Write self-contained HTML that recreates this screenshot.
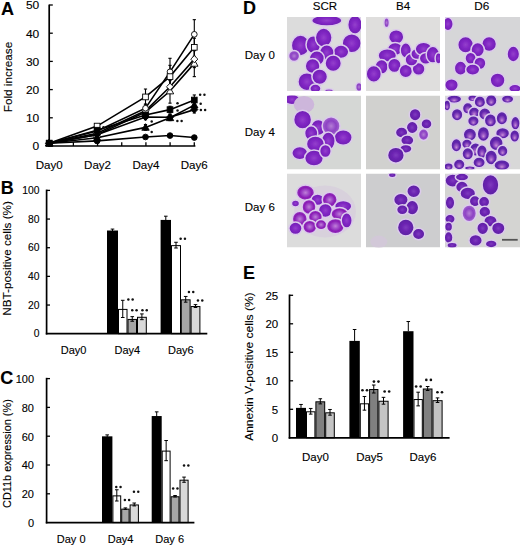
<!DOCTYPE html>
<html><head><meta charset="utf-8"><style>
html,body{margin:0;padding:0;background:#fff;}
svg{display:block;}
text{font-family:"Liberation Sans", sans-serif;fill:#000;stroke:#000;stroke-width:0.12px;}
</style></head><body>
<svg width="520" height="547" viewBox="0 0 520 547">
<rect width="520" height="547" fill="#fff"/>
<line x1="49.20" y1="4.60" x2="49.20" y2="146.80" stroke="#000" stroke-width="1.7"/>
<line x1="48.40" y1="146.00" x2="195.40" y2="146.00" stroke="#000" stroke-width="1.7"/>
<text x="39.30" y="150.30" font-size="11" text-anchor="end" textLength="6.67" lengthAdjust="spacingAndGlyphs">0</text>
<line x1="49.20" y1="117.80" x2="52.80" y2="117.80" stroke="#000" stroke-width="1.3"/>
<text x="39.30" y="122.10" font-size="11" text-anchor="end" textLength="13.34" lengthAdjust="spacingAndGlyphs">10</text>
<line x1="49.20" y1="89.60" x2="52.80" y2="89.60" stroke="#000" stroke-width="1.3"/>
<text x="39.30" y="93.90" font-size="11" text-anchor="end" textLength="13.34" lengthAdjust="spacingAndGlyphs">20</text>
<line x1="49.20" y1="61.40" x2="52.80" y2="61.40" stroke="#000" stroke-width="1.3"/>
<text x="39.30" y="65.70" font-size="11" text-anchor="end" textLength="13.34" lengthAdjust="spacingAndGlyphs">30</text>
<line x1="49.20" y1="33.20" x2="52.80" y2="33.20" stroke="#000" stroke-width="1.3"/>
<text x="39.30" y="37.50" font-size="11" text-anchor="end" textLength="13.34" lengthAdjust="spacingAndGlyphs">40</text>
<line x1="49.20" y1="5.00" x2="52.80" y2="5.00" stroke="#000" stroke-width="1.3"/>
<text x="39.30" y="9.30" font-size="11" text-anchor="end" textLength="13.34" lengthAdjust="spacingAndGlyphs">50</text>
<line x1="73.38" y1="146.00" x2="73.38" y2="142.20" stroke="#000" stroke-width="1.3"/>
<line x1="97.56" y1="146.00" x2="97.56" y2="142.20" stroke="#000" stroke-width="1.3"/>
<line x1="121.74" y1="146.00" x2="121.74" y2="142.20" stroke="#000" stroke-width="1.3"/>
<line x1="145.92" y1="146.00" x2="145.92" y2="142.20" stroke="#000" stroke-width="1.3"/>
<line x1="170.10" y1="146.00" x2="170.10" y2="142.20" stroke="#000" stroke-width="1.3"/>
<line x1="194.28" y1="146.00" x2="194.28" y2="142.20" stroke="#000" stroke-width="1.3"/>
<text x="49.20" y="168.80" font-size="11" text-anchor="middle" textLength="27.0" lengthAdjust="spacingAndGlyphs">Day0</text>
<text x="97.56" y="168.80" font-size="11" text-anchor="middle" textLength="27.0" lengthAdjust="spacingAndGlyphs">Day2</text>
<text x="145.92" y="168.80" font-size="11" text-anchor="middle" textLength="27.0" lengthAdjust="spacingAndGlyphs">Day4</text>
<text x="194.28" y="168.80" font-size="11" text-anchor="middle" textLength="27.0" lengthAdjust="spacingAndGlyphs">Day6</text>
<text x="11.90" y="77.00" font-size="10.5" text-anchor="middle" transform="rotate(-90 11.90 77.00)" textLength="70.5" lengthAdjust="spacingAndGlyphs">Fold increase</text>
<text x="1.00" y="14.60" font-size="18" text-anchor="start" font-weight="bold">A</text>
<line x1="97.10" y1="133.31" x2="97.10" y2="136.13" stroke="#000" stroke-width="1.1"/>
<line x1="95.50" y1="133.31" x2="98.70" y2="133.31" stroke="#000" stroke-width="1.1"/>
<line x1="95.50" y1="136.13" x2="98.70" y2="136.13" stroke="#000" stroke-width="1.1"/>
<line x1="145.50" y1="108.78" x2="145.50" y2="115.54" stroke="#000" stroke-width="1.1"/>
<line x1="143.90" y1="108.78" x2="147.10" y2="108.78" stroke="#000" stroke-width="1.1"/>
<line x1="143.90" y1="115.54" x2="147.10" y2="115.54" stroke="#000" stroke-width="1.1"/>
<line x1="170.00" y1="78.88" x2="170.00" y2="103.14" stroke="#000" stroke-width="1.1"/>
<line x1="168.40" y1="78.88" x2="171.60" y2="78.88" stroke="#000" stroke-width="1.1"/>
<line x1="168.40" y1="103.14" x2="171.60" y2="103.14" stroke="#000" stroke-width="1.1"/>
<line x1="194.30" y1="50.12" x2="194.30" y2="76.63" stroke="#000" stroke-width="1.1"/>
<line x1="192.70" y1="50.12" x2="195.90" y2="50.12" stroke="#000" stroke-width="1.1"/>
<line x1="192.70" y1="76.63" x2="195.90" y2="76.63" stroke="#000" stroke-width="1.1"/>
<line x1="97.10" y1="131.90" x2="97.10" y2="134.72" stroke="#000" stroke-width="1.1"/>
<line x1="95.50" y1="131.90" x2="98.70" y2="131.90" stroke="#000" stroke-width="1.1"/>
<line x1="95.50" y1="134.72" x2="98.70" y2="134.72" stroke="#000" stroke-width="1.1"/>
<line x1="145.50" y1="107.08" x2="145.50" y2="114.42" stroke="#000" stroke-width="1.1"/>
<line x1="143.90" y1="107.08" x2="147.10" y2="107.08" stroke="#000" stroke-width="1.1"/>
<line x1="143.90" y1="114.42" x2="147.10" y2="114.42" stroke="#000" stroke-width="1.1"/>
<line x1="170.00" y1="80.58" x2="170.00" y2="92.98" stroke="#000" stroke-width="1.1"/>
<line x1="168.40" y1="80.58" x2="171.60" y2="80.58" stroke="#000" stroke-width="1.1"/>
<line x1="168.40" y1="92.98" x2="171.60" y2="92.98" stroke="#000" stroke-width="1.1"/>
<line x1="194.30" y1="50.68" x2="194.30" y2="67.60" stroke="#000" stroke-width="1.1"/>
<line x1="192.70" y1="50.68" x2="195.90" y2="50.68" stroke="#000" stroke-width="1.1"/>
<line x1="192.70" y1="67.60" x2="195.90" y2="67.60" stroke="#000" stroke-width="1.1"/>
<line x1="97.10" y1="129.36" x2="97.10" y2="132.75" stroke="#000" stroke-width="1.1"/>
<line x1="95.50" y1="129.36" x2="98.70" y2="129.36" stroke="#000" stroke-width="1.1"/>
<line x1="95.50" y1="132.75" x2="98.70" y2="132.75" stroke="#000" stroke-width="1.1"/>
<line x1="145.50" y1="103.98" x2="145.50" y2="112.44" stroke="#000" stroke-width="1.1"/>
<line x1="143.90" y1="103.98" x2="147.10" y2="103.98" stroke="#000" stroke-width="1.1"/>
<line x1="143.90" y1="112.44" x2="147.10" y2="112.44" stroke="#000" stroke-width="1.1"/>
<line x1="170.00" y1="58.30" x2="170.00" y2="85.37" stroke="#000" stroke-width="1.1"/>
<line x1="168.40" y1="58.30" x2="171.60" y2="58.30" stroke="#000" stroke-width="1.1"/>
<line x1="168.40" y1="85.37" x2="171.60" y2="85.37" stroke="#000" stroke-width="1.1"/>
<line x1="194.30" y1="19.66" x2="194.30" y2="48.99" stroke="#000" stroke-width="1.1"/>
<line x1="192.70" y1="19.66" x2="195.90" y2="19.66" stroke="#000" stroke-width="1.1"/>
<line x1="192.70" y1="48.99" x2="195.90" y2="48.99" stroke="#000" stroke-width="1.1"/>
<line x1="97.10" y1="124.40" x2="97.10" y2="127.78" stroke="#000" stroke-width="1.1"/>
<line x1="95.50" y1="124.40" x2="98.70" y2="124.40" stroke="#000" stroke-width="1.1"/>
<line x1="95.50" y1="127.78" x2="98.70" y2="127.78" stroke="#000" stroke-width="1.1"/>
<line x1="145.50" y1="89.04" x2="145.50" y2="104.83" stroke="#000" stroke-width="1.1"/>
<line x1="143.90" y1="89.04" x2="147.10" y2="89.04" stroke="#000" stroke-width="1.1"/>
<line x1="143.90" y1="104.83" x2="147.10" y2="104.83" stroke="#000" stroke-width="1.1"/>
<line x1="170.00" y1="65.35" x2="170.00" y2="87.91" stroke="#000" stroke-width="1.1"/>
<line x1="168.40" y1="65.35" x2="171.60" y2="65.35" stroke="#000" stroke-width="1.1"/>
<line x1="168.40" y1="87.91" x2="171.60" y2="87.91" stroke="#000" stroke-width="1.1"/>
<line x1="194.30" y1="38.28" x2="194.30" y2="56.32" stroke="#000" stroke-width="1.1"/>
<line x1="192.70" y1="38.28" x2="195.90" y2="38.28" stroke="#000" stroke-width="1.1"/>
<line x1="192.70" y1="56.32" x2="195.90" y2="56.32" stroke="#000" stroke-width="1.1"/>
<line x1="97.10" y1="139.23" x2="97.10" y2="142.62" stroke="#000" stroke-width="1.1"/>
<line x1="95.50" y1="139.23" x2="98.70" y2="139.23" stroke="#000" stroke-width="1.1"/>
<line x1="95.50" y1="142.62" x2="98.70" y2="142.62" stroke="#000" stroke-width="1.1"/>
<line x1="145.50" y1="136.13" x2="145.50" y2="137.82" stroke="#000" stroke-width="1.1"/>
<line x1="143.90" y1="136.13" x2="147.10" y2="136.13" stroke="#000" stroke-width="1.1"/>
<line x1="143.90" y1="137.82" x2="147.10" y2="137.82" stroke="#000" stroke-width="1.1"/>
<line x1="170.00" y1="134.44" x2="170.00" y2="136.69" stroke="#000" stroke-width="1.1"/>
<line x1="168.40" y1="134.44" x2="171.60" y2="134.44" stroke="#000" stroke-width="1.1"/>
<line x1="168.40" y1="136.69" x2="171.60" y2="136.69" stroke="#000" stroke-width="1.1"/>
<line x1="194.30" y1="136.69" x2="194.30" y2="138.39" stroke="#000" stroke-width="1.1"/>
<line x1="192.70" y1="136.69" x2="195.90" y2="136.69" stroke="#000" stroke-width="1.1"/>
<line x1="192.70" y1="138.39" x2="195.90" y2="138.39" stroke="#000" stroke-width="1.1"/>
<line x1="97.10" y1="136.13" x2="97.10" y2="139.51" stroke="#000" stroke-width="1.1"/>
<line x1="95.50" y1="136.13" x2="98.70" y2="136.13" stroke="#000" stroke-width="1.1"/>
<line x1="95.50" y1="139.51" x2="98.70" y2="139.51" stroke="#000" stroke-width="1.1"/>
<line x1="145.50" y1="124.57" x2="145.50" y2="130.21" stroke="#000" stroke-width="1.1"/>
<line x1="143.90" y1="124.57" x2="147.10" y2="124.57" stroke="#000" stroke-width="1.1"/>
<line x1="143.90" y1="130.21" x2="147.10" y2="130.21" stroke="#000" stroke-width="1.1"/>
<line x1="170.00" y1="114.98" x2="170.00" y2="120.62" stroke="#000" stroke-width="1.1"/>
<line x1="168.40" y1="114.98" x2="171.60" y2="114.98" stroke="#000" stroke-width="1.1"/>
<line x1="168.40" y1="120.62" x2="171.60" y2="120.62" stroke="#000" stroke-width="1.1"/>
<line x1="194.30" y1="102.29" x2="194.30" y2="107.93" stroke="#000" stroke-width="1.1"/>
<line x1="192.70" y1="102.29" x2="195.90" y2="102.29" stroke="#000" stroke-width="1.1"/>
<line x1="192.70" y1="107.93" x2="195.90" y2="107.93" stroke="#000" stroke-width="1.1"/>
<line x1="97.10" y1="133.03" x2="97.10" y2="136.41" stroke="#000" stroke-width="1.1"/>
<line x1="95.50" y1="133.03" x2="98.70" y2="133.03" stroke="#000" stroke-width="1.1"/>
<line x1="95.50" y1="136.41" x2="98.70" y2="136.41" stroke="#000" stroke-width="1.1"/>
<line x1="145.50" y1="114.13" x2="145.50" y2="119.77" stroke="#000" stroke-width="1.1"/>
<line x1="143.90" y1="114.13" x2="147.10" y2="114.13" stroke="#000" stroke-width="1.1"/>
<line x1="143.90" y1="119.77" x2="147.10" y2="119.77" stroke="#000" stroke-width="1.1"/>
<line x1="170.00" y1="114.42" x2="170.00" y2="120.06" stroke="#000" stroke-width="1.1"/>
<line x1="168.40" y1="114.42" x2="171.60" y2="114.42" stroke="#000" stroke-width="1.1"/>
<line x1="168.40" y1="120.06" x2="171.60" y2="120.06" stroke="#000" stroke-width="1.1"/>
<line x1="194.30" y1="106.24" x2="194.30" y2="113.01" stroke="#000" stroke-width="1.1"/>
<line x1="192.70" y1="106.24" x2="195.90" y2="106.24" stroke="#000" stroke-width="1.1"/>
<line x1="192.70" y1="113.01" x2="195.90" y2="113.01" stroke="#000" stroke-width="1.1"/>
<line x1="97.10" y1="128.52" x2="97.10" y2="131.90" stroke="#000" stroke-width="1.1"/>
<line x1="95.50" y1="128.52" x2="98.70" y2="128.52" stroke="#000" stroke-width="1.1"/>
<line x1="95.50" y1="131.90" x2="98.70" y2="131.90" stroke="#000" stroke-width="1.1"/>
<line x1="145.50" y1="111.60" x2="145.50" y2="118.36" stroke="#000" stroke-width="1.1"/>
<line x1="143.90" y1="111.60" x2="147.10" y2="111.60" stroke="#000" stroke-width="1.1"/>
<line x1="143.90" y1="118.36" x2="147.10" y2="118.36" stroke="#000" stroke-width="1.1"/>
<line x1="170.00" y1="106.24" x2="170.00" y2="113.01" stroke="#000" stroke-width="1.1"/>
<line x1="168.40" y1="106.24" x2="171.60" y2="106.24" stroke="#000" stroke-width="1.1"/>
<line x1="168.40" y1="113.01" x2="171.60" y2="113.01" stroke="#000" stroke-width="1.1"/>
<line x1="194.30" y1="94.96" x2="194.30" y2="105.11" stroke="#000" stroke-width="1.1"/>
<line x1="192.70" y1="94.96" x2="195.90" y2="94.96" stroke="#000" stroke-width="1.1"/>
<line x1="192.70" y1="105.11" x2="195.90" y2="105.11" stroke="#000" stroke-width="1.1"/>
<polyline points="49.20,143.18 97.10,134.72 145.50,112.16 170.00,91.01 194.30,63.37" fill="none" stroke="#000" stroke-width="1.6"/>
<polyline points="49.20,143.18 97.10,133.31 145.50,110.75 170.00,86.78 194.30,59.14" fill="none" stroke="#000" stroke-width="1.6"/>
<polyline points="49.20,143.18 97.10,131.05 145.50,108.21 170.00,71.83 194.30,34.33" fill="none" stroke="#000" stroke-width="1.6"/>
<polyline points="49.20,143.18 97.10,126.09 145.50,96.93 170.00,76.63 194.30,47.30" fill="none" stroke="#000" stroke-width="1.6"/>
<polyline points="49.20,143.18 97.10,140.92 145.50,136.98 170.00,135.57 194.30,137.54" fill="none" stroke="#000" stroke-width="1.6"/>
<polyline points="49.20,143.18 97.10,137.82 145.50,127.39 170.00,117.80 194.30,105.11" fill="none" stroke="#000" stroke-width="1.6"/>
<polyline points="49.20,143.18 97.10,134.72 145.50,116.95 170.00,117.24 194.30,109.62" fill="none" stroke="#000" stroke-width="1.6"/>
<polyline points="49.20,143.18 97.10,130.21 145.50,114.98 170.00,109.62 194.30,100.03" fill="none" stroke="#000" stroke-width="1.6"/>
<polygon points="49.20,139.47 52.91,146.03 45.50,146.03" fill="#fff" stroke="#000" stroke-width="0.9"/>
<polygon points="97.10,131.01 100.80,137.57 93.39,137.57" fill="#fff" stroke="#000" stroke-width="0.9"/>
<polygon points="145.50,108.45 149.21,115.01 141.79,115.01" fill="#fff" stroke="#000" stroke-width="0.9"/>
<polygon points="170.00,87.31 173.71,93.86 166.29,93.86" fill="#fff" stroke="#000" stroke-width="0.9"/>
<polygon points="194.30,59.67 198.01,66.22 190.59,66.22" fill="#fff" stroke="#000" stroke-width="0.9"/>
<polygon points="49.20,139.62 52.76,143.18 49.20,146.74 45.64,143.18" fill="#fff" stroke="#000" stroke-width="0.9"/>
<polygon points="97.10,129.75 100.66,133.31 97.10,136.87 93.54,133.31" fill="#fff" stroke="#000" stroke-width="0.9"/>
<polygon points="145.50,107.19 149.06,110.75 145.50,114.31 141.94,110.75" fill="#fff" stroke="#000" stroke-width="0.9"/>
<polygon points="170.00,83.22 173.56,86.78 170.00,90.34 166.44,86.78" fill="#fff" stroke="#000" stroke-width="0.9"/>
<polygon points="194.30,55.58 197.86,59.14 194.30,62.71 190.74,59.14" fill="#fff" stroke="#000" stroke-width="0.9"/>
<circle cx="49.20" cy="143.18" r="2.85" fill="#fff" stroke="#000" stroke-width="0.9"/>
<circle cx="97.10" cy="131.05" r="2.85" fill="#fff" stroke="#000" stroke-width="0.9"/>
<circle cx="145.50" cy="108.21" r="2.85" fill="#fff" stroke="#000" stroke-width="0.9"/>
<circle cx="170.00" cy="71.83" r="2.85" fill="#fff" stroke="#000" stroke-width="0.9"/>
<circle cx="194.30" cy="34.33" r="2.85" fill="#fff" stroke="#000" stroke-width="0.9"/>
<rect x="46.35" y="140.33" width="5.70" height="5.70" fill="#fff" stroke="#000" stroke-width="0.9"/>
<rect x="94.25" y="123.24" width="5.70" height="5.70" fill="#fff" stroke="#000" stroke-width="0.9"/>
<rect x="142.65" y="94.08" width="5.70" height="5.70" fill="#fff" stroke="#000" stroke-width="0.9"/>
<rect x="167.15" y="73.78" width="5.70" height="5.70" fill="#fff" stroke="#000" stroke-width="0.9"/>
<rect x="191.45" y="44.45" width="5.70" height="5.70" fill="#fff" stroke="#000" stroke-width="0.9"/>
<circle cx="49.20" cy="143.18" r="2.85" fill="#000" stroke="#000" stroke-width="0.9"/>
<circle cx="97.10" cy="140.92" r="2.85" fill="#000" stroke="#000" stroke-width="0.9"/>
<circle cx="145.50" cy="136.98" r="2.85" fill="#000" stroke="#000" stroke-width="0.9"/>
<circle cx="170.00" cy="135.57" r="2.85" fill="#000" stroke="#000" stroke-width="0.9"/>
<circle cx="194.30" cy="137.54" r="2.85" fill="#000" stroke="#000" stroke-width="0.9"/>
<polygon points="49.20,139.47 52.91,146.03 45.50,146.03" fill="#000" stroke="#000" stroke-width="0.9"/>
<polygon points="97.10,134.12 100.80,140.67 93.39,140.67" fill="#000" stroke="#000" stroke-width="0.9"/>
<polygon points="145.50,123.68 149.21,130.24 141.79,130.24" fill="#000" stroke="#000" stroke-width="0.9"/>
<polygon points="170.00,114.09 173.71,120.65 166.29,120.65" fill="#000" stroke="#000" stroke-width="0.9"/>
<polygon points="194.30,101.41 198.01,107.96 190.59,107.96" fill="#000" stroke="#000" stroke-width="0.9"/>
<polygon points="49.20,139.62 52.76,143.18 49.20,146.74 45.64,143.18" fill="#000" stroke="#000" stroke-width="0.9"/>
<polygon points="97.10,131.16 100.66,134.72 97.10,138.28 93.54,134.72" fill="#000" stroke="#000" stroke-width="0.9"/>
<polygon points="145.50,113.39 149.06,116.95 145.50,120.52 141.94,116.95" fill="#000" stroke="#000" stroke-width="0.9"/>
<polygon points="170.00,113.67 173.56,117.24 170.00,120.80 166.44,117.24" fill="#000" stroke="#000" stroke-width="0.9"/>
<polygon points="194.30,106.06 197.86,109.62 194.30,113.18 190.74,109.62" fill="#000" stroke="#000" stroke-width="0.9"/>
<rect x="46.35" y="140.33" width="5.70" height="5.70" fill="#000" stroke="#000" stroke-width="0.9"/>
<rect x="94.25" y="127.36" width="5.70" height="5.70" fill="#000" stroke="#000" stroke-width="0.9"/>
<rect x="142.65" y="112.13" width="5.70" height="5.70" fill="#000" stroke="#000" stroke-width="0.9"/>
<rect x="167.15" y="106.77" width="5.70" height="5.70" fill="#000" stroke="#000" stroke-width="0.9"/>
<rect x="191.45" y="97.18" width="5.70" height="5.70" fill="#000" stroke="#000" stroke-width="0.9"/>
<circle cx="103.50" cy="127.30" r="1.25" fill="#111"/>
<circle cx="151.70" cy="121.40" r="1.25" fill="#111"/>
<circle cx="151.70" cy="132.00" r="1.25" fill="#111"/>
<circle cx="177.50" cy="103.20" r="1.25" fill="#111"/>
<circle cx="177.50" cy="110.60" r="1.25" fill="#111"/>
<circle cx="177.35" cy="120.90" r="1.25" fill="#111"/>
<circle cx="181.65" cy="120.90" r="1.25" fill="#111"/>
<circle cx="200.15" cy="94.80" r="1.25" fill="#111"/>
<circle cx="204.45" cy="94.80" r="1.25" fill="#111"/>
<circle cx="200.70" cy="103.80" r="1.25" fill="#111"/>
<circle cx="200.85" cy="110.10" r="1.25" fill="#111"/>
<circle cx="205.15" cy="110.10" r="1.25" fill="#111"/>
<rect x="107.00" y="230.52" width="11.00" height="103.18" fill="#000"/>
<rect x="118.50" y="309.41" width="8.50" height="24.29" fill="#fff" stroke="#000" stroke-width="1.0"/>
<rect x="128.00" y="319.44" width="8.50" height="14.26" fill="#a6a6a6" stroke="#000" stroke-width="1.0"/>
<rect x="137.50" y="317.29" width="8.80" height="16.41" fill="#d9d9d9" stroke="#000" stroke-width="1.0"/>
<rect x="160.60" y="219.92" width="10.40" height="113.78" fill="#000"/>
<rect x="171.50" y="245.64" width="9.00" height="88.06" fill="#fff" stroke="#000" stroke-width="1.0"/>
<rect x="181.30" y="299.81" width="8.80" height="33.89" fill="#a6a6a6" stroke="#000" stroke-width="1.0"/>
<rect x="191.10" y="306.54" width="8.80" height="27.16" fill="#d9d9d9" stroke="#000" stroke-width="1.0"/>
<line x1="112.50" y1="229.09" x2="112.50" y2="231.96" stroke="#000" stroke-width="1.0"/>
<line x1="110.70" y1="229.09" x2="114.30" y2="229.09" stroke="#000" stroke-width="1.0"/>
<line x1="110.70" y1="231.96" x2="114.30" y2="231.96" stroke="#000" stroke-width="1.0"/>
<line x1="122.75" y1="300.31" x2="122.75" y2="317.51" stroke="#000" stroke-width="1.0"/>
<line x1="120.95" y1="300.31" x2="124.55" y2="300.31" stroke="#000" stroke-width="1.0"/>
<line x1="120.95" y1="317.51" x2="124.55" y2="317.51" stroke="#000" stroke-width="1.0"/>
<line x1="132.25" y1="316.65" x2="132.25" y2="321.23" stroke="#000" stroke-width="1.0"/>
<line x1="130.45" y1="316.65" x2="134.05" y2="316.65" stroke="#000" stroke-width="1.0"/>
<line x1="130.45" y1="321.23" x2="134.05" y2="321.23" stroke="#000" stroke-width="1.0"/>
<line x1="141.90" y1="313.92" x2="141.90" y2="319.66" stroke="#000" stroke-width="1.0"/>
<line x1="140.10" y1="313.92" x2="143.70" y2="313.92" stroke="#000" stroke-width="1.0"/>
<line x1="140.10" y1="319.66" x2="143.70" y2="319.66" stroke="#000" stroke-width="1.0"/>
<line x1="165.80" y1="216.19" x2="165.80" y2="223.65" stroke="#000" stroke-width="1.0"/>
<line x1="164.00" y1="216.19" x2="167.60" y2="216.19" stroke="#000" stroke-width="1.0"/>
<line x1="164.00" y1="223.65" x2="167.60" y2="223.65" stroke="#000" stroke-width="1.0"/>
<line x1="176.00" y1="242.27" x2="176.00" y2="248.01" stroke="#000" stroke-width="1.0"/>
<line x1="174.20" y1="242.27" x2="177.80" y2="242.27" stroke="#000" stroke-width="1.0"/>
<line x1="174.20" y1="248.01" x2="177.80" y2="248.01" stroke="#000" stroke-width="1.0"/>
<line x1="185.70" y1="296.44" x2="185.70" y2="302.17" stroke="#000" stroke-width="1.0"/>
<line x1="183.90" y1="296.44" x2="187.50" y2="296.44" stroke="#000" stroke-width="1.0"/>
<line x1="183.90" y1="302.17" x2="187.50" y2="302.17" stroke="#000" stroke-width="1.0"/>
<line x1="195.50" y1="304.61" x2="195.50" y2="307.48" stroke="#000" stroke-width="1.0"/>
<line x1="193.70" y1="304.61" x2="197.30" y2="304.61" stroke="#000" stroke-width="1.0"/>
<line x1="193.70" y1="307.48" x2="197.30" y2="307.48" stroke="#000" stroke-width="1.0"/>
<line x1="46.60" y1="189.60" x2="46.60" y2="334.50" stroke="#000" stroke-width="1.7"/>
<line x1="45.80" y1="333.70" x2="207.30" y2="333.70" stroke="#000" stroke-width="1.7"/>
<text x="39.50" y="337.40" font-size="10.3" text-anchor="end">0</text>
<line x1="46.60" y1="305.04" x2="50.00" y2="305.04" stroke="#000" stroke-width="1.3"/>
<text x="39.50" y="308.74" font-size="10.3" text-anchor="end">20</text>
<line x1="46.60" y1="276.38" x2="50.00" y2="276.38" stroke="#000" stroke-width="1.3"/>
<text x="39.50" y="280.08" font-size="10.3" text-anchor="end">40</text>
<line x1="46.60" y1="247.72" x2="50.00" y2="247.72" stroke="#000" stroke-width="1.3"/>
<text x="39.50" y="251.42" font-size="10.3" text-anchor="end">60</text>
<line x1="46.60" y1="219.06" x2="50.00" y2="219.06" stroke="#000" stroke-width="1.3"/>
<text x="39.50" y="222.76" font-size="10.3" text-anchor="end">80</text>
<line x1="46.60" y1="190.40" x2="50.00" y2="190.40" stroke="#000" stroke-width="1.3"/>
<text x="39.50" y="194.10" font-size="10.3" text-anchor="end">100</text>
<text x="73.60" y="353.80" font-size="11" text-anchor="middle">Day0</text>
<text x="127.30" y="353.80" font-size="11" text-anchor="middle">Day4</text>
<text x="180.80" y="353.80" font-size="11" text-anchor="middle">Day6</text>
<text x="11.40" y="258.40" font-size="11.4" text-anchor="middle" transform="rotate(-90 11.40 258.40)" textLength="114.5" lengthAdjust="spacingAndGlyphs">NBT-positive cells (%)</text>
<text x="0.80" y="193.80" font-size="18" text-anchor="start" font-weight="bold">B</text>
<circle cx="128.35" cy="299.60" r="1.25" fill="#111"/>
<circle cx="132.65" cy="299.60" r="1.25" fill="#111"/>
<circle cx="132.25" cy="310.20" r="1.25" fill="#111"/>
<circle cx="136.55" cy="310.20" r="1.25" fill="#111"/>
<circle cx="142.45" cy="310.20" r="1.25" fill="#111"/>
<circle cx="146.75" cy="310.20" r="1.25" fill="#111"/>
<circle cx="180.65" cy="238.80" r="1.25" fill="#111"/>
<circle cx="184.95" cy="238.80" r="1.25" fill="#111"/>
<circle cx="188.95" cy="291.90" r="1.25" fill="#111"/>
<circle cx="193.25" cy="291.90" r="1.25" fill="#111"/>
<circle cx="197.95" cy="300.50" r="1.25" fill="#111"/>
<circle cx="202.25" cy="300.50" r="1.25" fill="#111"/>
<rect x="55.00" y="522.02" width="5.00" height="0.58" fill="#000"/>
<rect x="102.00" y="436.34" width="10.40" height="86.26" fill="#000"/>
<rect x="112.90" y="495.88" width="7.80" height="26.72" fill="#fff" stroke="#000" stroke-width="1.0"/>
<rect x="121.70" y="509.13" width="7.40" height="13.47" fill="#a6a6a6" stroke="#000" stroke-width="1.0"/>
<rect x="130.10" y="504.96" width="8.30" height="17.64" fill="#d9d9d9" stroke="#000" stroke-width="1.0"/>
<rect x="151.70" y="416.04" width="10.00" height="106.56" fill="#000"/>
<rect x="162.20" y="451.10" width="7.90" height="71.50" fill="#fff" stroke="#000" stroke-width="1.0"/>
<rect x="171.10" y="496.75" width="7.90" height="25.85" fill="#a6a6a6" stroke="#000" stroke-width="1.0"/>
<rect x="180.00" y="480.19" width="8.10" height="42.41" fill="#d9d9d9" stroke="#000" stroke-width="1.0"/>
<line x1="107.20" y1="434.90" x2="107.20" y2="437.78" stroke="#000" stroke-width="1.0"/>
<line x1="105.40" y1="434.90" x2="109.00" y2="434.90" stroke="#000" stroke-width="1.0"/>
<line x1="105.40" y1="437.78" x2="109.00" y2="437.78" stroke="#000" stroke-width="1.0"/>
<line x1="116.80" y1="489.77" x2="116.80" y2="501.00" stroke="#000" stroke-width="1.0"/>
<line x1="115.00" y1="489.77" x2="118.60" y2="489.77" stroke="#000" stroke-width="1.0"/>
<line x1="115.00" y1="501.00" x2="118.60" y2="501.00" stroke="#000" stroke-width="1.0"/>
<line x1="125.40" y1="507.91" x2="125.40" y2="509.35" stroke="#000" stroke-width="1.0"/>
<line x1="123.60" y1="507.91" x2="127.20" y2="507.91" stroke="#000" stroke-width="1.0"/>
<line x1="123.60" y1="509.35" x2="127.20" y2="509.35" stroke="#000" stroke-width="1.0"/>
<line x1="134.25" y1="503.02" x2="134.25" y2="505.90" stroke="#000" stroke-width="1.0"/>
<line x1="132.45" y1="503.02" x2="136.05" y2="503.02" stroke="#000" stroke-width="1.0"/>
<line x1="132.45" y1="505.90" x2="136.05" y2="505.90" stroke="#000" stroke-width="1.0"/>
<line x1="156.70" y1="411.86" x2="156.70" y2="420.22" stroke="#000" stroke-width="1.0"/>
<line x1="154.90" y1="411.86" x2="158.50" y2="411.86" stroke="#000" stroke-width="1.0"/>
<line x1="154.90" y1="420.22" x2="158.50" y2="420.22" stroke="#000" stroke-width="1.0"/>
<line x1="166.15" y1="440.52" x2="166.15" y2="460.68" stroke="#000" stroke-width="1.0"/>
<line x1="164.35" y1="440.52" x2="167.95" y2="440.52" stroke="#000" stroke-width="1.0"/>
<line x1="164.35" y1="460.68" x2="167.95" y2="460.68" stroke="#000" stroke-width="1.0"/>
<line x1="175.05" y1="495.53" x2="175.05" y2="496.97" stroke="#000" stroke-width="1.0"/>
<line x1="173.25" y1="495.53" x2="176.85" y2="495.53" stroke="#000" stroke-width="1.0"/>
<line x1="173.25" y1="496.97" x2="176.85" y2="496.97" stroke="#000" stroke-width="1.0"/>
<line x1="184.05" y1="477.10" x2="184.05" y2="482.28" stroke="#000" stroke-width="1.0"/>
<line x1="182.25" y1="477.10" x2="185.85" y2="477.10" stroke="#000" stroke-width="1.0"/>
<line x1="182.25" y1="482.28" x2="185.85" y2="482.28" stroke="#000" stroke-width="1.0"/>
<line x1="46.60" y1="377.80" x2="46.60" y2="523.40" stroke="#000" stroke-width="1.7"/>
<line x1="45.80" y1="522.60" x2="194.40" y2="522.60" stroke="#000" stroke-width="1.7"/>
<text x="34.00" y="527.00" font-size="11" text-anchor="end">0</text>
<line x1="46.60" y1="493.80" x2="50.00" y2="493.80" stroke="#000" stroke-width="1.3"/>
<text x="34.00" y="498.20" font-size="11" text-anchor="end">20</text>
<line x1="46.60" y1="465.00" x2="50.00" y2="465.00" stroke="#000" stroke-width="1.3"/>
<text x="34.00" y="469.40" font-size="11" text-anchor="end">40</text>
<line x1="46.60" y1="436.20" x2="50.00" y2="436.20" stroke="#000" stroke-width="1.3"/>
<text x="34.00" y="440.60" font-size="11" text-anchor="end">60</text>
<line x1="46.60" y1="407.40" x2="50.00" y2="407.40" stroke="#000" stroke-width="1.3"/>
<text x="34.00" y="411.80" font-size="11" text-anchor="end">80</text>
<line x1="46.60" y1="378.60" x2="50.00" y2="378.60" stroke="#000" stroke-width="1.3"/>
<text x="34.00" y="383.00" font-size="11" text-anchor="end">100</text>
<text x="71.20" y="543.00" font-size="11" text-anchor="middle">Day 0</text>
<text x="120.60" y="543.00" font-size="11" text-anchor="middle">Day4</text>
<text x="169.70" y="543.00" font-size="11" text-anchor="middle">Day 6</text>
<text x="11.40" y="453.60" font-size="10.9" text-anchor="middle" transform="rotate(-90 11.40 453.60)">CD11b expression (%)</text>
<text x="0.30" y="383.70" font-size="18" text-anchor="start" font-weight="bold">C</text>
<circle cx="116.25" cy="487.00" r="1.25" fill="#111"/>
<circle cx="120.55" cy="487.00" r="1.25" fill="#111"/>
<circle cx="124.85" cy="500.00" r="1.25" fill="#111"/>
<circle cx="129.15" cy="500.00" r="1.25" fill="#111"/>
<circle cx="133.95" cy="491.80" r="1.25" fill="#111"/>
<circle cx="138.25" cy="491.80" r="1.25" fill="#111"/>
<circle cx="173.15" cy="488.60" r="1.25" fill="#111"/>
<circle cx="177.45" cy="488.60" r="1.25" fill="#111"/>
<circle cx="184.05" cy="465.50" r="1.25" fill="#111"/>
<circle cx="188.35" cy="465.50" r="1.25" fill="#111"/>
<rect x="296.00" y="407.88" width="10.00" height="29.93" fill="#000"/>
<line x1="301.00" y1="404.46" x2="301.00" y2="407.88" stroke="#000" stroke-width="1.0"/>
<line x1="299.20" y1="404.46" x2="302.80" y2="404.46" stroke="#000" stroke-width="1.0"/>
<rect x="306.50" y="411.80" width="8.40" height="26.00" fill="#fff" stroke="#000" stroke-width="1.0"/>
<line x1="310.70" y1="408.44" x2="310.70" y2="414.14" stroke="#000" stroke-width="1.0"/>
<line x1="308.90" y1="408.44" x2="312.50" y2="408.44" stroke="#000" stroke-width="1.0"/>
<line x1="308.90" y1="414.14" x2="312.50" y2="414.14" stroke="#000" stroke-width="1.0"/>
<rect x="315.90" y="401.82" width="8.80" height="35.98" fill="#808080" stroke="#000" stroke-width="1.0"/>
<line x1="320.30" y1="398.75" x2="320.30" y2="403.88" stroke="#000" stroke-width="1.0"/>
<line x1="318.50" y1="398.75" x2="322.10" y2="398.75" stroke="#000" stroke-width="1.0"/>
<line x1="318.50" y1="403.88" x2="322.10" y2="403.88" stroke="#000" stroke-width="1.0"/>
<rect x="325.70" y="412.82" width="8.60" height="24.98" fill="#c4c4c4" stroke="#000" stroke-width="1.0"/>
<line x1="330.00" y1="409.47" x2="330.00" y2="415.17" stroke="#000" stroke-width="1.0"/>
<line x1="328.20" y1="409.47" x2="331.80" y2="409.47" stroke="#000" stroke-width="1.0"/>
<line x1="328.20" y1="415.17" x2="331.80" y2="415.17" stroke="#000" stroke-width="1.0"/>
<rect x="349.40" y="340.90" width="10.40" height="96.90" fill="#000"/>
<line x1="354.60" y1="329.50" x2="354.60" y2="340.90" stroke="#000" stroke-width="1.0"/>
<line x1="352.80" y1="329.50" x2="356.40" y2="329.50" stroke="#000" stroke-width="1.0"/>
<rect x="360.30" y="403.81" width="8.30" height="33.99" fill="#fff" stroke="#000" stroke-width="1.0"/>
<line x1="364.45" y1="396.48" x2="364.45" y2="410.16" stroke="#000" stroke-width="1.0"/>
<line x1="362.65" y1="396.48" x2="366.25" y2="396.48" stroke="#000" stroke-width="1.0"/>
<line x1="362.65" y1="410.16" x2="366.25" y2="410.16" stroke="#000" stroke-width="1.0"/>
<rect x="369.60" y="389.51" width="8.30" height="48.29" fill="#808080" stroke="#000" stroke-width="1.0"/>
<line x1="373.75" y1="385.02" x2="373.75" y2="393.00" stroke="#000" stroke-width="1.0"/>
<line x1="371.95" y1="385.02" x2="375.55" y2="385.02" stroke="#000" stroke-width="1.0"/>
<line x1="371.95" y1="393.00" x2="375.55" y2="393.00" stroke="#000" stroke-width="1.0"/>
<rect x="378.90" y="401.25" width="9.20" height="36.55" fill="#c4c4c4" stroke="#000" stroke-width="1.0"/>
<line x1="383.50" y1="397.33" x2="383.50" y2="404.17" stroke="#000" stroke-width="1.0"/>
<line x1="381.70" y1="397.33" x2="385.30" y2="397.33" stroke="#000" stroke-width="1.0"/>
<line x1="381.70" y1="404.17" x2="385.30" y2="404.17" stroke="#000" stroke-width="1.0"/>
<rect x="403.10" y="331.21" width="10.40" height="106.59" fill="#000"/>
<line x1="408.30" y1="321.52" x2="408.30" y2="331.21" stroke="#000" stroke-width="1.0"/>
<line x1="406.50" y1="321.52" x2="410.10" y2="321.52" stroke="#000" stroke-width="1.0"/>
<rect x="414.00" y="399.54" width="8.30" height="38.26" fill="#fff" stroke="#000" stroke-width="1.0"/>
<line x1="418.15" y1="392.20" x2="418.15" y2="405.88" stroke="#000" stroke-width="1.0"/>
<line x1="416.35" y1="392.20" x2="419.95" y2="392.20" stroke="#000" stroke-width="1.0"/>
<line x1="416.35" y1="405.88" x2="419.95" y2="405.88" stroke="#000" stroke-width="1.0"/>
<rect x="423.30" y="389.00" width="8.70" height="48.81" fill="#808080" stroke="#000" stroke-width="1.0"/>
<line x1="427.65" y1="386.50" x2="427.65" y2="390.49" stroke="#000" stroke-width="1.0"/>
<line x1="425.85" y1="386.50" x2="429.45" y2="386.50" stroke="#000" stroke-width="1.0"/>
<line x1="425.85" y1="390.49" x2="429.45" y2="390.49" stroke="#000" stroke-width="1.0"/>
<rect x="433.00" y="400.68" width="9.10" height="37.12" fill="#c4c4c4" stroke="#000" stroke-width="1.0"/>
<line x1="437.55" y1="397.90" x2="437.55" y2="402.46" stroke="#000" stroke-width="1.0"/>
<line x1="435.75" y1="397.90" x2="439.35" y2="397.90" stroke="#000" stroke-width="1.0"/>
<line x1="435.75" y1="402.46" x2="439.35" y2="402.46" stroke="#000" stroke-width="1.0"/>
<line x1="289.50" y1="294.50" x2="289.50" y2="438.60" stroke="#000" stroke-width="1.7"/>
<line x1="288.70" y1="437.80" x2="449.60" y2="437.80" stroke="#000" stroke-width="1.7"/>
<text x="278.20" y="442.20" font-size="11.5" text-anchor="end">0</text>
<line x1="289.50" y1="409.30" x2="293.10" y2="409.30" stroke="#000" stroke-width="1.3"/>
<text x="278.20" y="413.70" font-size="11.5" text-anchor="end">5</text>
<line x1="289.50" y1="380.80" x2="293.10" y2="380.80" stroke="#000" stroke-width="1.3"/>
<text x="278.20" y="385.20" font-size="11.5" text-anchor="end">10</text>
<line x1="289.50" y1="352.30" x2="293.10" y2="352.30" stroke="#000" stroke-width="1.3"/>
<text x="278.20" y="356.70" font-size="11.5" text-anchor="end">15</text>
<line x1="289.50" y1="323.80" x2="293.10" y2="323.80" stroke="#000" stroke-width="1.3"/>
<text x="278.20" y="328.20" font-size="11.5" text-anchor="end">20</text>
<line x1="289.50" y1="295.30" x2="293.10" y2="295.30" stroke="#000" stroke-width="1.3"/>
<text x="278.20" y="299.70" font-size="11.5" text-anchor="end">25</text>
<text x="315.50" y="461.20" font-size="11.5" text-anchor="middle">Day0</text>
<text x="369.60" y="461.20" font-size="11.5" text-anchor="middle">Day5</text>
<text x="423.00" y="461.20" font-size="11.5" text-anchor="middle">Day6</text>
<text x="252.90" y="366.60" font-size="11.8" text-anchor="middle" transform="rotate(-90 252.90 366.60)" textLength="148.5" lengthAdjust="spacingAndGlyphs">Annexin V-positive cells (%)</text>
<text x="242.90" y="278.70" font-size="18" text-anchor="start" font-weight="bold">E</text>
<circle cx="362.43" cy="390.20" r="1.32" fill="#111"/>
<circle cx="366.97" cy="390.20" r="1.32" fill="#111"/>
<circle cx="373.93" cy="381.60" r="1.32" fill="#111"/>
<circle cx="378.47" cy="381.60" r="1.32" fill="#111"/>
<circle cx="384.63" cy="391.50" r="1.32" fill="#111"/>
<circle cx="389.17" cy="391.50" r="1.32" fill="#111"/>
<circle cx="416.13" cy="386.50" r="1.32" fill="#111"/>
<circle cx="420.67" cy="386.50" r="1.32" fill="#111"/>
<circle cx="426.33" cy="379.90" r="1.32" fill="#111"/>
<circle cx="430.87" cy="379.90" r="1.32" fill="#111"/>
<circle cx="437.43" cy="392.20" r="1.32" fill="#111"/>
<circle cx="441.97" cy="392.20" r="1.32" fill="#111"/>
<text x="242.90" y="13.50" font-size="18" text-anchor="start" font-weight="bold">D</text>
<text x="325.00" y="10.40" font-size="11" text-anchor="middle" textLength="24.3" lengthAdjust="spacingAndGlyphs">SCR</text>
<text x="403.00" y="10.40" font-size="11" text-anchor="middle" textLength="14.2" lengthAdjust="spacingAndGlyphs">B4</text>
<text x="481.70" y="10.40" font-size="11" text-anchor="middle" textLength="15.0" lengthAdjust="spacingAndGlyphs">D6</text>
<text x="244.80" y="58.50" font-size="11" text-anchor="start" textLength="30.0" lengthAdjust="spacingAndGlyphs">Day 0</text>
<text x="244.80" y="135.80" font-size="11" text-anchor="start" textLength="30.0" lengthAdjust="spacingAndGlyphs">Day 4</text>
<text x="244.80" y="211.10" font-size="11" text-anchor="start" textLength="30.0" lengthAdjust="spacingAndGlyphs">Day 6</text>
<defs>
<radialGradient id="gN" cx="50%" cy="50%" r="50%"><stop offset="0%" stop-color="#9440cc"/><stop offset="45%" stop-color="#8228c4"/><stop offset="85%" stop-color="#7420b8"/><stop offset="100%" stop-color="#7a30b8"/></radialGradient>
<radialGradient id="gB" cx="50%" cy="50%" r="50%"><stop offset="0%" stop-color="#7e3abe"/><stop offset="45%" stop-color="#6c24b2"/><stop offset="85%" stop-color="#6020a6"/><stop offset="100%" stop-color="#6e34ae"/></radialGradient>
<radialGradient id="gL" cx="50%" cy="50%" r="52%"><stop offset="0%" stop-color="#b47ed6"/><stop offset="55%" stop-color="#8d42c4"/><stop offset="100%" stop-color="#a66cd0"/></radialGradient>
<radialGradient id="gR" cx="50%" cy="50%" r="52%"><stop offset="0%" stop-color="#c79ede"/><stop offset="45%" stop-color="#a971d3"/><stop offset="80%" stop-color="#8a3dc3"/><stop offset="100%" stop-color="#9c5ccc"/></radialGradient>
<radialGradient id="gM" cx="50%" cy="50%" fx="50%" fy="68%" r="50%"><stop offset="0%" stop-color="#c890d8"/><stop offset="30%" stop-color="#9250c2"/><stop offset="62%" stop-color="#5e22aa"/><stop offset="100%" stop-color="#5c2ca6"/></radialGradient>
<radialGradient id="gK" cx="50%" cy="50%" r="52%"><stop offset="0%" stop-color="#c080d8"/><stop offset="35%" stop-color="#a048c8"/><stop offset="65%" stop-color="#8a1cb4"/><stop offset="100%" stop-color="#9838c0"/></radialGradient>
<filter id="bl" x="-5%" y="-5%" width="110%" height="110%"><feGaussianBlur stdDeviation="0.4"/></filter>

<clipPath id="c00"><rect x="287" y="17" width="74" height="74"/></clipPath>
<clipPath id="c10"><rect x="366" y="17" width="74" height="74"/></clipPath>
<clipPath id="c20"><rect x="445" y="17" width="75" height="74"/></clipPath>
<clipPath id="c01"><rect x="287" y="95.5" width="74" height="74"/></clipPath>
<clipPath id="c11"><rect x="366" y="95.5" width="74" height="74"/></clipPath>
<clipPath id="c21"><rect x="445" y="95.5" width="75" height="74"/></clipPath>
<clipPath id="c02"><rect x="287" y="173.5" width="74" height="74"/></clipPath>
<clipPath id="c12"><rect x="366" y="173.5" width="74" height="74"/></clipPath>
<clipPath id="c22"><rect x="445" y="173.5" width="75" height="74"/></clipPath>
</defs>
<g clip-path="url(#c00)"><rect x="287" y="17" width="74" height="74" fill="#dcdcdc"/>
<g filter="url(#bl)">
<ellipse cx="326.8" cy="20.5" rx="15.1" ry="5.6" fill="url(#gN)" stroke="#dccbec" stroke-width="1.5"/>
<ellipse cx="355.0" cy="24.8" rx="7.3" ry="9.5" fill="url(#gN)" stroke="#dccbec" stroke-width="1.5"/>
<ellipse cx="300.5" cy="45.5" rx="9.2" ry="10.4" fill="url(#gN)" stroke="#dccbec" stroke-width="1.5"/>
<ellipse cx="313.3" cy="44.7" rx="7.3" ry="9.0" fill="url(#gN)" stroke="#dccbec" stroke-width="1.5"/>
<ellipse cx="323.7" cy="37.6" rx="8.4" ry="9.5" fill="url(#gN)" stroke="#dccbec" stroke-width="1.5"/>
<ellipse cx="351.7" cy="43.3" rx="9.5" ry="9.5" fill="url(#gN)" stroke="#dccbec" stroke-width="1.5"/>
<ellipse cx="341.0" cy="51.8" rx="7.8" ry="6.7" fill="url(#gN)" stroke="#dccbec" stroke-width="1.5"/>
<ellipse cx="326.8" cy="52.6" rx="7.3" ry="7.8" fill="url(#gN)" stroke="#dccbec" stroke-width="1.5"/>
<ellipse cx="316.9" cy="58.3" rx="7.5" ry="7.5" fill="url(#gN)" stroke="#dccbec" stroke-width="1.5"/>
<ellipse cx="333.2" cy="63.2" rx="8.2" ry="8.2" fill="url(#gN)" stroke="#dccbec" stroke-width="1.5"/>
<ellipse cx="312.6" cy="66.0" rx="7.4" ry="7.4" fill="url(#gN)" stroke="#dccbec" stroke-width="1.5"/>
<ellipse cx="294.1" cy="56.0" rx="5.6" ry="5.6" fill="url(#gL)" stroke="#dccbec" stroke-width="1.5"/>
<ellipse cx="306.9" cy="81.7" rx="9.0" ry="9.0" fill="url(#gN)" stroke="#dccbec" stroke-width="1.5"/>
<ellipse cx="319.7" cy="76.7" rx="7.8" ry="7.8" fill="url(#gN)" stroke="#dccbec" stroke-width="1.5"/>
<ellipse cx="315.4" cy="88.5" rx="5.6" ry="4.5" fill="url(#gN)" stroke="#dccbec" stroke-width="1.5"/>
<ellipse cx="329.0" cy="91.0" rx="4.5" ry="2.2" fill="url(#gL)" stroke="#dccbec" stroke-width="1.5"/>
<ellipse cx="359.0" cy="87.0" rx="3.4" ry="4.5" fill="url(#gL)" stroke="#dccbec" stroke-width="1.5"/>
</g></g>
<g clip-path="url(#c10)"><rect x="366" y="17" width="74" height="74" fill="#dfdedd"/>
<g filter="url(#bl)">
<ellipse cx="396.2" cy="36.9" rx="7.6" ry="7.2" fill="url(#gN)" stroke="#dccbec" stroke-width="1.5"/>
<ellipse cx="395.2" cy="49.0" rx="7.6" ry="6.4" fill="url(#gN)" stroke="#dccbec" stroke-width="1.5"/>
<ellipse cx="405.8" cy="50.4" rx="5.6" ry="7.6" fill="url(#gN)" stroke="#dccbec" stroke-width="1.5"/>
<ellipse cx="387.3" cy="55.4" rx="9.2" ry="6.7" fill="url(#gN)" stroke="#dccbec" stroke-width="1.5"/>
<ellipse cx="381.6" cy="66.8" rx="6.7" ry="7.2" fill="url(#gN)" stroke="#dccbec" stroke-width="1.5"/>
<ellipse cx="373.8" cy="73.9" rx="7.6" ry="8.4" fill="url(#gN)" stroke="#dccbec" stroke-width="1.5"/>
<ellipse cx="394.4" cy="65.4" rx="6.7" ry="7.2" fill="url(#gN)" stroke="#dccbec" stroke-width="1.5"/>
<ellipse cx="405.8" cy="71.0" rx="6.7" ry="6.7" fill="url(#gN)" stroke="#dccbec" stroke-width="1.5"/>
<ellipse cx="418.6" cy="68.9" rx="6.4" ry="6.4" fill="url(#gN)" stroke="#dccbec" stroke-width="1.5"/>
<ellipse cx="411.5" cy="59.7" rx="6.4" ry="6.4" fill="url(#gN)" stroke="#dccbec" stroke-width="1.5"/>
<ellipse cx="417.2" cy="54.0" rx="6.4" ry="5.6" fill="url(#gN)" stroke="#dccbec" stroke-width="1.5"/>
<ellipse cx="423.6" cy="49.0" rx="8.4" ry="6.7" fill="url(#gN)" stroke="#dccbec" stroke-width="1.5"/>
<ellipse cx="425.7" cy="58.3" rx="6.4" ry="5.9" fill="url(#gN)" stroke="#dccbec" stroke-width="1.5"/>
<ellipse cx="432.9" cy="54.7" rx="6.7" ry="8.4" fill="url(#gN)" stroke="#dccbec" stroke-width="1.5"/>
<ellipse cx="438.5" cy="58.3" rx="3.4" ry="5.6" fill="url(#gN)" stroke="#dccbec" stroke-width="1.5"/>
<ellipse cx="386.6" cy="22.7" rx="2.8" ry="5.0" fill="url(#gL)" stroke="#dccbec" stroke-width="1.5"/>
</g></g>
<g clip-path="url(#c20)"><rect x="445" y="17" width="75" height="74" fill="#d6d6d8"/>
<g filter="url(#bl)">
<ellipse cx="448.0" cy="24.0" rx="5.2" ry="6.8" fill="url(#gN)" stroke="#dccbec" stroke-width="1.5"/>
<ellipse cx="465.6" cy="44.7" rx="7.9" ry="8.2" fill="url(#gN)" stroke="#dccbec" stroke-width="1.5"/>
<ellipse cx="489.1" cy="44.0" rx="7.4" ry="7.4" fill="url(#gN)" stroke="#dccbec" stroke-width="1.5"/>
<ellipse cx="477.7" cy="49.7" rx="6.7" ry="7.1" fill="url(#gN)" stroke="#dccbec" stroke-width="1.5"/>
<ellipse cx="470.6" cy="58.3" rx="5.6" ry="6.0" fill="url(#gN)" stroke="#dccbec" stroke-width="1.5"/>
<ellipse cx="479.9" cy="63.2" rx="6.0" ry="6.3" fill="url(#gN)" stroke="#dccbec" stroke-width="1.5"/>
<ellipse cx="460.6" cy="68.2" rx="6.3" ry="7.1" fill="url(#gN)" stroke="#dccbec" stroke-width="1.5"/>
<ellipse cx="472.7" cy="69.6" rx="7.1" ry="5.6" fill="url(#gN)" stroke="#dccbec" stroke-width="1.5"/>
<ellipse cx="513.3" cy="54.0" rx="6.3" ry="7.9" fill="url(#gN)" stroke="#dccbec" stroke-width="1.5"/>
<ellipse cx="497.6" cy="80.3" rx="7.4" ry="7.4" fill="url(#gN)" stroke="#dccbec" stroke-width="1.5"/>
<ellipse cx="451.5" cy="85.0" rx="6.8" ry="6.3" fill="url(#gN)" stroke="#dccbec" stroke-width="1.5"/>
<ellipse cx="515.0" cy="88.5" rx="6.3" ry="4.2" fill="url(#gN)" stroke="#dccbec" stroke-width="1.5"/>
</g></g>
<g clip-path="url(#c01)"><rect x="287" y="95.5" width="74" height="74" fill="#d5d7d5"/>
<g filter="url(#bl)">
<ellipse cx="292.0" cy="99.5" rx="8.0" ry="5.2" fill="url(#gN)" stroke="#dccbec" stroke-width="1.5"/>
<ellipse cx="304.0" cy="104.5" rx="10.3" ry="8.6" fill="#cdb6db"/>
<ellipse cx="302.6" cy="119.7" rx="9.0" ry="9.4" fill="url(#gN)" stroke="#dccbec" stroke-width="1.5"/>
<ellipse cx="318.3" cy="127.5" rx="7.4" ry="8.0" fill="url(#gN)" stroke="#dccbec" stroke-width="1.5"/>
<ellipse cx="331.1" cy="126.1" rx="9.0" ry="9.4" fill="url(#gL)" stroke="#dccbec" stroke-width="1.5"/>
<ellipse cx="311.2" cy="133.2" rx="6.6" ry="7.4" fill="url(#gN)" stroke="#dccbec" stroke-width="1.5"/>
<ellipse cx="343.2" cy="137.5" rx="9.0" ry="7.8" fill="url(#gN)" stroke="#dccbec" stroke-width="1.5"/>
<ellipse cx="328.3" cy="141.0" rx="6.9" ry="9.0" fill="url(#gN)" stroke="#dccbec" stroke-width="1.5"/>
<ellipse cx="315.4" cy="143.9" rx="9.0" ry="8.0" fill="url(#gN)" stroke="#dccbec" stroke-width="1.5"/>
<ellipse cx="299.8" cy="153.1" rx="8.0" ry="6.6" fill="url(#gN)" stroke="#dccbec" stroke-width="1.5"/>
<ellipse cx="314.0" cy="158.1" rx="9.4" ry="8.0" fill="url(#gN)" stroke="#dccbec" stroke-width="1.5"/>
<ellipse cx="325.4" cy="151.0" rx="5.8" ry="6.6" fill="url(#gN)" stroke="#dccbec" stroke-width="1.5"/>
</g></g>
<g clip-path="url(#c11)"><rect x="366" y="95.5" width="74" height="74" fill="#d1d1cf"/>
<g filter="url(#bl)">
<ellipse cx="415.1" cy="114.7" rx="5.9" ry="6.2" fill="url(#gB)" stroke="#dccbec" stroke-width="1.5"/>
<ellipse cx="426.5" cy="123.9" rx="5.5" ry="5.2" fill="url(#gB)" stroke="#dccbec" stroke-width="1.5"/>
<ellipse cx="412.2" cy="127.5" rx="5.9" ry="6.2" fill="url(#gB)" stroke="#dccbec" stroke-width="1.5"/>
<ellipse cx="423.6" cy="134.6" rx="5.2" ry="5.9" fill="url(#gL)" stroke="#dccbec" stroke-width="1.5"/>
<ellipse cx="401.6" cy="132.5" rx="6.2" ry="5.5" fill="url(#gB)" stroke="#dccbec" stroke-width="1.5"/>
<ellipse cx="407.3" cy="140.3" rx="6.6" ry="5.2" fill="url(#gB)" stroke="#dccbec" stroke-width="1.5"/>
<ellipse cx="405.8" cy="148.8" rx="6.2" ry="4.4" fill="url(#gB)" stroke="#dccbec" stroke-width="1.5"/>
<ellipse cx="395.9" cy="155.2" rx="8.4" ry="8.0" fill="url(#gB)" stroke="#dccbec" stroke-width="1.5"/>
</g></g>
<g clip-path="url(#c21)"><rect x="445" y="95.5" width="75" height="74" fill="#d8d8d8"/>
<g filter="url(#bl)">
<ellipse cx="454.2" cy="99.1" rx="7.5" ry="4.2" fill="url(#gM)" stroke="#dccbec" stroke-width="1.5"/>
<ellipse cx="447.1" cy="105.5" rx="3.5" ry="5.4" fill="url(#gM)" stroke="#dccbec" stroke-width="1.5"/>
<ellipse cx="472.7" cy="98.3" rx="5.0" ry="3.5" fill="url(#gM)" stroke="#dccbec" stroke-width="1.5"/>
<ellipse cx="479.9" cy="101.9" rx="5.8" ry="5.8" fill="url(#gM)" stroke="#dccbec" stroke-width="1.5"/>
<ellipse cx="491.2" cy="100.5" rx="5.8" ry="6.2" fill="url(#gM)" stroke="#dccbec" stroke-width="1.5"/>
<ellipse cx="507.6" cy="99.1" rx="6.2" ry="4.2" fill="url(#gM)" stroke="#dccbec" stroke-width="1.5"/>
<ellipse cx="467.8" cy="108.3" rx="5.4" ry="5.8" fill="url(#gM)" stroke="#dccbec" stroke-width="1.5"/>
<ellipse cx="457.1" cy="114.7" rx="5.8" ry="6.2" fill="url(#gM)" stroke="#dccbec" stroke-width="1.5"/>
<ellipse cx="474.2" cy="112.5" rx="5.8" ry="5.4" fill="url(#gM)" stroke="#dccbec" stroke-width="1.5"/>
<ellipse cx="484.8" cy="114.0" rx="6.2" ry="6.2" fill="url(#gM)" stroke="#dccbec" stroke-width="1.5"/>
<ellipse cx="490.5" cy="120.4" rx="6.2" ry="6.7" fill="url(#gM)" stroke="#dccbec" stroke-width="1.5"/>
<ellipse cx="473.4" cy="121.1" rx="5.8" ry="5.4" fill="url(#gM)" stroke="#dccbec" stroke-width="1.5"/>
<ellipse cx="501.9" cy="118.3" rx="5.8" ry="6.7" fill="url(#gM)" stroke="#dccbec" stroke-width="1.5"/>
<ellipse cx="515.4" cy="123.2" rx="4.7" ry="7.0" fill="url(#gM)" stroke="#dccbec" stroke-width="1.5"/>
<ellipse cx="469.9" cy="134.6" rx="6.7" ry="6.7" fill="url(#gM)" stroke="#dccbec" stroke-width="1.5"/>
<ellipse cx="483.4" cy="133.9" rx="6.2" ry="7.5" fill="url(#gM)" stroke="#dccbec" stroke-width="1.5"/>
<ellipse cx="502.6" cy="133.2" rx="7.0" ry="5.8" fill="url(#gM)" stroke="#dccbec" stroke-width="1.5"/>
<ellipse cx="514.7" cy="136.0" rx="5.0" ry="6.2" fill="url(#gM)" stroke="#dccbec" stroke-width="1.5"/>
<ellipse cx="456.4" cy="145.3" rx="5.4" ry="6.7" fill="url(#gM)" stroke="#dccbec" stroke-width="1.5"/>
<ellipse cx="467.0" cy="143.9" rx="5.4" ry="5.0" fill="url(#gM)" stroke="#dccbec" stroke-width="1.5"/>
<ellipse cx="496.2" cy="143.2" rx="7.0" ry="7.5" fill="url(#gM)" stroke="#dccbec" stroke-width="1.5"/>
<ellipse cx="475.6" cy="149.5" rx="6.2" ry="6.7" fill="url(#gM)" stroke="#dccbec" stroke-width="1.5"/>
<ellipse cx="482.0" cy="151.7" rx="5.4" ry="7.0" fill="url(#gM)" stroke="#dccbec" stroke-width="1.5"/>
<ellipse cx="502.6" cy="151.0" rx="5.4" ry="5.8" fill="url(#gM)" stroke="#dccbec" stroke-width="1.5"/>
<ellipse cx="467.8" cy="153.8" rx="5.8" ry="6.2" fill="url(#gM)" stroke="#dccbec" stroke-width="1.5"/>
<ellipse cx="491.2" cy="157.4" rx="6.2" ry="7.5" fill="url(#gM)" stroke="#dccbec" stroke-width="1.5"/>
<ellipse cx="479.1" cy="162.4" rx="6.2" ry="5.4" fill="url(#gM)" stroke="#dccbec" stroke-width="1.5"/>
<ellipse cx="459.2" cy="164.5" rx="5.8" ry="5.4" fill="url(#gM)" stroke="#dccbec" stroke-width="1.5"/>
<ellipse cx="501.9" cy="165.2" rx="8.0" ry="5.4" fill="url(#gM)" stroke="#dccbec" stroke-width="1.5"/>
<ellipse cx="448.6" cy="166.6" rx="4.7" ry="3.9" fill="url(#gM)" stroke="#dccbec" stroke-width="1.5"/>
<ellipse cx="469.9" cy="168.0" rx="5.4" ry="2.3" fill="url(#gM)" stroke="#dccbec" stroke-width="1.5"/>
</g></g>
<g clip-path="url(#c02)"><rect x="287" y="173.5" width="74" height="74" fill="#dcdcdc"/>
<g filter="url(#bl)">
<ellipse cx="325.0" cy="211.5" rx="31" ry="26" fill="#d0bcdc" opacity="0.35"/>
<ellipse cx="305.5" cy="192.7" rx="9.0" ry="7.7" fill="url(#gK)" stroke="#dccbec" stroke-width="1.5"/>
<ellipse cx="317.6" cy="199.8" rx="6.6" ry="5.8" fill="url(#gN)" stroke="#dccbec" stroke-width="1.5"/>
<ellipse cx="329.7" cy="199.8" rx="7.5" ry="7.5" fill="url(#gK)" stroke="#dccbec" stroke-width="1.5"/>
<ellipse cx="343.2" cy="206.2" rx="8.6" ry="5.8" fill="url(#gN)" stroke="#dccbec" stroke-width="1.5"/>
<ellipse cx="295.5" cy="203.4" rx="4.0" ry="3.5" fill="url(#gN)" stroke="#dccbec" stroke-width="1.5"/>
<ellipse cx="309.0" cy="206.9" rx="7.0" ry="7.5" fill="url(#gK)" stroke="#dccbec" stroke-width="1.5"/>
<ellipse cx="325.4" cy="210.5" rx="7.0" ry="7.0" fill="url(#gN)" stroke="#dccbec" stroke-width="1.5"/>
<ellipse cx="339.6" cy="214.0" rx="8.6" ry="6.6" fill="url(#gK)" stroke="#dccbec" stroke-width="1.5"/>
<ellipse cx="299.8" cy="219.0" rx="7.5" ry="7.7" fill="url(#gK)" stroke="#dccbec" stroke-width="1.5"/>
<ellipse cx="315.4" cy="216.9" rx="7.0" ry="6.6" fill="url(#gK)" stroke="#dccbec" stroke-width="1.5"/>
<ellipse cx="295.5" cy="228.3" rx="6.6" ry="6.3" fill="url(#gN)" stroke="#dccbec" stroke-width="1.5"/>
<ellipse cx="309.8" cy="226.8" rx="7.0" ry="6.6" fill="url(#gK)" stroke="#dccbec" stroke-width="1.5"/>
<ellipse cx="321.1" cy="224.7" rx="5.8" ry="5.1" fill="url(#gK)" stroke="#dccbec" stroke-width="1.5"/>
<ellipse cx="335.4" cy="226.1" rx="9.0" ry="7.7" fill="url(#gK)" stroke="#dccbec" stroke-width="1.5"/>
<ellipse cx="346.7" cy="220.4" rx="5.5" ry="7.7" fill="url(#gN)" stroke="#dccbec" stroke-width="1.5"/>
</g></g>
<g clip-path="url(#c12)"><rect x="366" y="173.5" width="74" height="74" fill="#cdcdcf"/>
<g filter="url(#bl)">
<ellipse cx="392.3" cy="175.0" rx="3.9" ry="2.7" fill="url(#gB)" stroke="#dccbec" stroke-width="1.5"/>
<ellipse cx="413.7" cy="191.3" rx="6.9" ry="6.5" fill="url(#gB)" stroke="#dccbec" stroke-width="1.5"/>
<ellipse cx="400.9" cy="199.8" rx="7.3" ry="6.5" fill="url(#gB)" stroke="#dccbec" stroke-width="1.5"/>
<ellipse cx="412.2" cy="207.6" rx="6.5" ry="7.3" fill="url(#gB)" stroke="#dccbec" stroke-width="1.5"/>
<ellipse cx="402.3" cy="209.8" rx="5.7" ry="5.0" fill="url(#gB)" stroke="#dccbec" stroke-width="1.5"/>
<ellipse cx="405.8" cy="227.5" rx="8.4" ry="8.4" fill="url(#gB)" stroke="#dccbec" stroke-width="1.5"/>
<ellipse cx="418.6" cy="234.0" rx="6.2" ry="5.7" fill="url(#gB)" stroke="#dccbec" stroke-width="1.5"/>
<ellipse cx="378.8" cy="241.8" rx="8.4" ry="6.2" fill="#d2c8d8"/>
</g></g>
<g clip-path="url(#c22)"><rect x="445" y="173.5" width="75" height="74" fill="#d4d4d2"/>
<g filter="url(#bl)">
<ellipse cx="452.8" cy="180.6" rx="7.8" ry="6.7" fill="url(#gB)" stroke="#dccbec" stroke-width="1.5"/>
<ellipse cx="462.0" cy="177.1" rx="6.7" ry="4.0" fill="url(#gB)" stroke="#dccbec" stroke-width="1.5"/>
<ellipse cx="462.0" cy="187.0" rx="6.4" ry="5.9" fill="url(#gB)" stroke="#dccbec" stroke-width="1.5"/>
<ellipse cx="467.8" cy="193.4" rx="7.8" ry="6.4" fill="url(#gB)" stroke="#dccbec" stroke-width="1.5"/>
<ellipse cx="490.5" cy="184.9" rx="8.4" ry="10.3" fill="url(#gB)" stroke="#dccbec" stroke-width="1.5"/>
<ellipse cx="450.0" cy="202.7" rx="4.8" ry="6.7" fill="url(#gB)" stroke="#dccbec" stroke-width="1.5"/>
<ellipse cx="474.9" cy="201.2" rx="5.6" ry="5.6" fill="url(#gB)" stroke="#dccbec" stroke-width="1.5"/>
<ellipse cx="484.1" cy="201.9" rx="5.6" ry="5.6" fill="url(#gB)" stroke="#dccbec" stroke-width="1.5"/>
<ellipse cx="469.2" cy="213.3" rx="7.2" ry="8.4" fill="url(#gL)" stroke="#dccbec" stroke-width="1.5"/>
<ellipse cx="484.8" cy="211.9" rx="5.9" ry="5.6" fill="url(#gB)" stroke="#dccbec" stroke-width="1.5"/>
<ellipse cx="450.0" cy="219.0" rx="5.2" ry="4.8" fill="url(#gB)" stroke="#dccbec" stroke-width="1.5"/>
<ellipse cx="448.6" cy="226.8" rx="4.0" ry="4.8" fill="url(#gB)" stroke="#dccbec" stroke-width="1.5"/>
<ellipse cx="490.5" cy="221.2" rx="6.7" ry="5.9" fill="url(#gB)" stroke="#dccbec" stroke-width="1.5"/>
<ellipse cx="482.7" cy="228.3" rx="5.9" ry="6.4" fill="url(#gB)" stroke="#dccbec" stroke-width="1.5"/>
<ellipse cx="498.3" cy="228.3" rx="6.7" ry="6.4" fill="url(#gB)" stroke="#dccbec" stroke-width="1.5"/>
<ellipse cx="448.6" cy="237.5" rx="4.4" ry="5.9" fill="url(#gB)" stroke="#dccbec" stroke-width="1.5"/>
<ellipse cx="475.6" cy="240.4" rx="6.7" ry="5.9" fill="url(#gB)" stroke="#dccbec" stroke-width="1.5"/>
<ellipse cx="491.2" cy="243.9" rx="5.9" ry="4.0" fill="url(#gB)" stroke="#dccbec" stroke-width="1.5"/>
<ellipse cx="452.1" cy="245.3" rx="5.2" ry="3.1" fill="url(#gB)" stroke="#dccbec" stroke-width="1.5"/>
</g></g>
<line x1="502" y1="239.8" x2="517.7" y2="239.8" stroke="#555" stroke-width="1.8"/>
</svg>
</body></html>
